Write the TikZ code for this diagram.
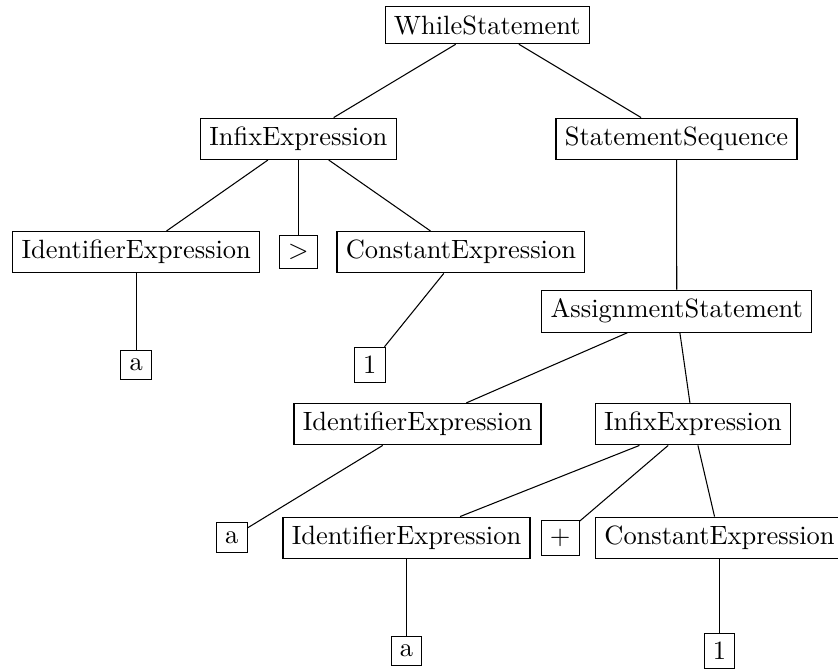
\documentclass[tikz,border=0pt]{standalone}
\begin{document}
\begin{tikzpicture}[x=0.378pt,y=-0.378pt,
  treenode/.style={draw,rectangle,line width=0.4pt,inner sep=0.3333em},
  edge/.style={draw,line width=0.4pt}]
\useasboundingbox (0,0) rectangle (838,669);
\node[treenode] (while)  at (487.3,25.3)  {WhileStatement};
\node[treenode] (infixA) at (298.3,138.8) {InfixExpression};
\node[treenode] (seq)    at (676.5,138.8) {StatementSequence};
\node[treenode] (idA)    at (136.2,252.2) {IdentifierExpression};
\node[treenode] (gt)     at (298.3,252.2) {$>$};
\node[treenode] (constA) at (460.9,252.2) {ConstantExpression};
\node[treenode] (aA)     at (136.2,365)   {a};
\node[treenode] (oneA)   at (369.8,365)   {1};
\node[treenode] (assign) at (676.8,311.2) {AssignmentStatement};
\node[treenode] (idB)    at (417.5,424.2) {IdentifierExpression};
\node[treenode] (infixB) at (693,424.2)   {InfixExpression};
\node[treenode] (aB)     at (231.8,537.5) {a};
\node[treenode] (idC)    at (406.5,537.8) {IdentifierExpression};
\node[treenode] (plus)   at (560.2,537.8) {$+$};
\node[treenode] (constC) at (719.5,537.8) {ConstantExpression};
\node[treenode] (aC)     at (406.5,651)   {a};
\node[treenode] (oneC)   at (719.5,651)   {1};
\draw[edge] (while) -- (infixA);
\draw[edge] (while) -- (seq);
\draw[edge] (infixA) -- (idA);
\draw[edge] (infixA) -- (gt);
\draw[edge] (infixA) -- (constA);
\draw[edge] (idA) -- (aA);
\draw[edge] (constA) -- (oneA);
\draw[edge] (seq) -- (assign);
\draw[edge] (assign) -- (idB);
\draw[edge] (assign) -- (infixB);
\draw[edge] (idB) -- (aB);
\draw[edge] (infixB) -- (idC);
\draw[edge] (infixB) -- (plus);
\draw[edge] (infixB) -- (constC);
\draw[edge] (idC) -- (aC);
\draw[edge] (constC) -- (oneC);
\end{tikzpicture}
\end{document}
